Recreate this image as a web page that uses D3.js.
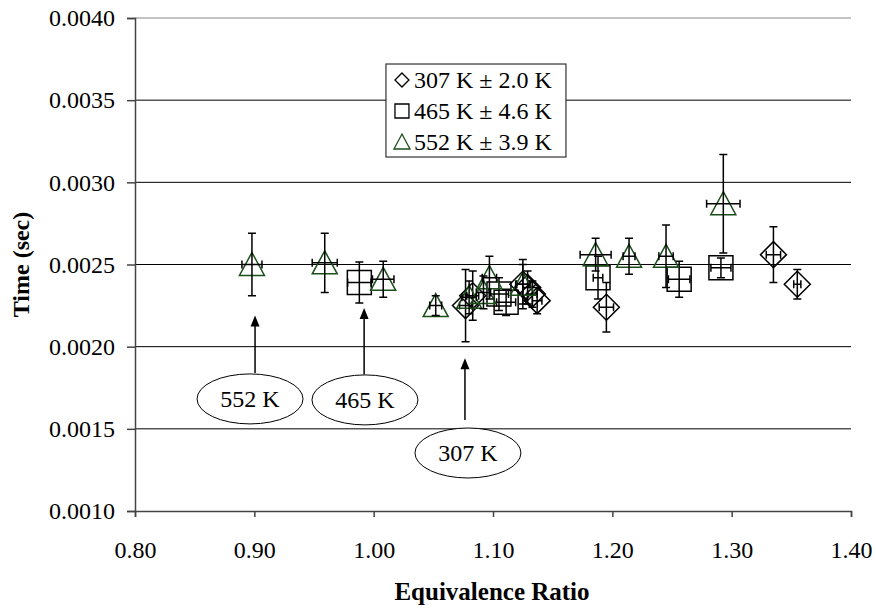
<!DOCTYPE html>
<html>
<head>
<meta charset="utf-8">
<title>Time vs equivalence ratio</title>
<script src="https://d3js.org/d3.v7.min.js"></script>
<style>
body { margin: 0; background: #fff; }
svg text { font-family: "Liberation Serif", "DejaVu Serif", serif !important; fill: #000; }
.grid line { stroke: #000; stroke-width: 1px; }
.axis path, .axis line { stroke: #444; stroke-width: 1.5px; }
.ebar { stroke: #000; stroke-width: 1.5px; fill: none; }
</style>
</head>
<body>
<script>

// [equivalence ratio, time (s), x error, y error]
var pts307 = [
  [1.077, 0.00225, 0.005, 0.00022],
  [1.083, 0.00231, 0.005, 0.00015],
  [1.125, 0.00238, 0.005, 0.00012],
  [1.129, 0.00236, 0.004, 0.00010],
  [1.133, 0.00232, 0.004, 0.00008],
  [1.137, 0.00228, 0.004, 0.00008],
  [1.195, 0.00224, 0.006, 0.00015],
  [1.335, 0.00256, 0.006, 0.00017],
  [1.355, 0.00238, 0.003, 0.00009]
];
var pts465 = [
  [0.988, 0.00239, 0.0098, 0.000125],
  [1.105, 0.00232, 0.008, 0.00010],
  [1.111, 0.00227, 0.008, 0.00008],
  [1.188, 0.00242, 0.004, 0.00013],
  [1.256, 0.00241, 0.009, 0.00011],
  [1.291, 0.00248, 0.0084, 0.00006]
];
var pts552 = [
  [0.898, 0.00250, 0.0084, 0.00019],
  [0.959, 0.00251, 0.0105, 0.00018],
  [1.008, 0.00241, 0.009, 0.00011],
  [1.052, 0.00225, 0.005, 0.00006],
  [1.080, 0.00230, 0.006, 0.00010],
  [1.092, 0.00233, 0.006, 0.00010],
  [1.097, 0.00242, 0.006, 0.00013],
  [1.125, 0.00238, 0.006, 0.00015],
  [1.186, 0.00256, 0.013, 0.00010],
  [1.214, 0.00255, 0.005, 0.00011],
  [1.245, 0.00255, 0.006, 0.00019],
  [1.293, 0.00287, 0.014, 0.00030]
];

var seriesNames = ["307 K \u00b1 2.0 K", "465 K \u00b1 4.6 K", "552 K \u00b1 3.9 K"];
var xTicks = [0.80, 0.90, 1.00, 1.10, 1.20, 1.30, 1.40];
var yTicks = [0.0010, 0.0015, 0.0020, 0.0025, 0.0030, 0.0035, 0.0040];

// callouts: label, arrow x, arrow tip time, arrow base time, label centre x, label centre time
var callouts = [
  ["552 K", 0.9006, 0.00219, 0.00184, 0.8964, 0.001682],
  ["465 K", 0.992, 0.002235, 0.00183, 0.9927, 0.001676],
  ["307 K", 1.0765, 0.00193, 0.001554, 1.079, 0.001353]
];

var FONT = "'Liberation Serif', 'DejaVu Serif', serif";
var W = 876, H = 609;
var margin = {top: 18, right: 25, bottom: 98, left: 135};
var w = W - margin.left - margin.right;
var h = H - margin.top - margin.bottom;

var x = d3.scaleLinear().domain([0.8, 1.4]).range([0, w]);
var y = d3.scaleLinear().domain([0.001, 0.004]).range([h, 0]);

var svg = d3.select("body").append("svg")
  .attr("width", W).attr("height", H)
  .attr("font-family", FONT);

var g = svg.append("g").attr("transform", "translate(" + margin.left + "," + margin.top + ")");

// gridlines
g.append("g").attr("class", "grid")
  .selectAll("line").data(yTicks.slice(1)).enter().append("line")
  .attr("x1", 0).attr("x2", w)
  .attr("y1", function(d) { return y(d); }).attr("y2", function(d) { return y(d); })
  .style("stroke", function(d, i) { return i == yTicks.length - 2 ? "#888" : "#000"; });

var xa = g.append("g").attr("class", "axis")
  .attr("transform", "translate(0," + h + ")")
  .call(d3.axisBottom(x).tickValues(xTicks).tickFormat(d3.format(".2f")).tickSize(6).tickPadding(24));
var ya = g.append("g").attr("class", "axis")
  .call(d3.axisLeft(y).tickValues(yTicks).tickFormat(d3.format(".4f")).tickSize(8).tickPadding(12));
xa.attr("font-family", FONT).attr("font-size", 24);
ya.attr("font-family", FONT).attr("font-size", 24);

// callouts
callouts.forEach(function(c) {
  var ax = x(c[1]), tip = y(c[2]);
  g.append("line")
    .attr("x1", ax).attr("x2", ax)
    .attr("y1", y(c[3])).attr("y2", tip + 8)
    .attr("stroke", "#000").attr("stroke-width", 1.5);
  g.append("path")
    .attr("d", "M" + ax + "," + tip + "L" + (ax + 4.5) + "," + (tip + 11) + "L" + (ax - 4.5) + "," + (tip + 11) + "Z")
    .attr("fill", "#000");
  g.append("ellipse")
    .attr("cx", x(c[4])).attr("cy", y(c[5]))
    .attr("rx", 53).attr("ry", 25)
    .attr("fill", "#fff").attr("stroke", "#000").attr("stroke-width", 1);
  g.append("text")
    .attr("x", x(c[4])).attr("y", y(c[5]) + 8)
    .attr("text-anchor", "middle").attr("font-size", 24)
    .text(c[0]);
});

var shapes = [
  {data: pts307, color: "#000", path: "M0,-13L13,0L0,13L-13,0Z"},
  {data: pts465, color: "#000", path: "M-12,-12H12V12H-12Z"},
  {data: pts552, color: "#1a4f1a", path: "M0,-12L12.5,11H-12.5Z"}
];

shapes.forEach(function(s) {
  var sg = g.append("g");
  sg.selectAll("path.mk").data(s.data).enter().append("path")
    .attr("class", "mk")
    .attr("transform", function(d) { return "translate(" + x(d[0]) + "," + y(d[1]) + ")"; })
    .attr("d", s.path)
    .attr("fill", "none").attr("stroke", s.color).attr("stroke-width", 1.5);
  var eb = sg.selectAll("g.eb").data(s.data).enter().append("g").attr("class", "eb");
  eb.append("path").attr("class", "ebar").attr("d", function(d) {
    var cx = x(d[0]), cy = y(d[1]);
    var y0 = y(d[1] - d[3]), y1 = y(d[1] + d[3]);
    var x0 = x(d[0] - d[2]), x1 = x(d[0] + d[2]);
    return "M" + cx + "," + y0 + "V" + y1 +
      "M" + (cx - 4) + "," + y0 + "H" + (cx + 4) +
      "M" + (cx - 4) + "," + y1 + "H" + (cx + 4) +
      "M" + x0 + "," + cy + "H" + x1 +
      "M" + x0 + "," + (cy - 4) + "V" + (cy + 4) +
      "M" + x1 + "," + (cy - 4) + "V" + (cy + 4);
  });
});

// legend
var lg = g.append("g").attr("transform", "translate(" + x(1.0103) + "," + y(0.00372) + ")");
lg.append("rect").attr("width", 180).attr("height", 93)
  .attr("fill", "#fff").attr("stroke", "#333").attr("stroke-width", 1.2);
var legendIcons = [
  {path: "M0,-7L7,0L0,7L-7,0Z", color: "#000"},
  {path: "M-7,-7H7V7H-7Z", color: "#000"},
  {path: "M0,-8L8,7H-8Z", color: "#1a4f1a"}
];
seriesNames.forEach(function(n, i) {
  var row = lg.append("g").attr("transform", "translate(0," + (16 + i * 31) + ")");
  row.append("path").attr("d", legendIcons[i].path)
    .attr("transform", "translate(16,0)")
    .attr("fill", "none").attr("stroke", legendIcons[i].color).attr("stroke-width", 1.3);
  row.append("text").attr("x", 28).attr("y", 8).attr("font-size", 24).text(n);
});

// axis titles
svg.append("text")
  .attr("x", 492).attr("y", 600)
  .attr("text-anchor", "middle").attr("font-size", 25).attr("font-weight", "bold")
  .text("Equivalence Ratio");
svg.append("text")
  .attr("transform", "translate(29," + (margin.top + h / 2) + ") rotate(-90)")
  .attr("text-anchor", "middle").attr("font-size", 24).attr("font-weight", "bold")
  .text("Time (sec)");

</script>
</body>
</html>
